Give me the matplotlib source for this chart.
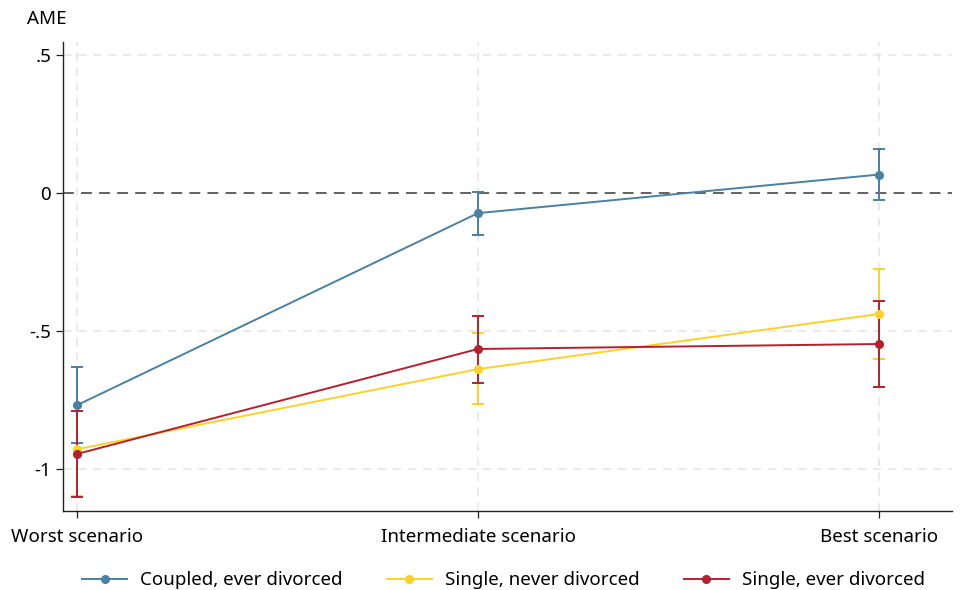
import matplotlib
matplotlib.use("Agg")
import matplotlib.pyplot as plt
import numpy as np

plt.rcParams["font.family"] = ["Noto Sans", "DejaVu Sans"]

# data
scenarios = ["Worst scenario", "Intermediate scenario", "Best scenario"]
series = ["Coupled, ever divorced", "Single, never divorced", "Single, ever divorced"]

coupled_ever = [-0.770, -0.073, 0.067]
coupled_ever_lo = [-0.907, -0.152, -0.025]
coupled_ever_hi = [-0.632, 0.004, 0.160]

single_never = [-0.930, -0.639, -0.439]
single_never_lo = [-1.100, -0.766, -0.603]
single_never_hi = [-0.791, -0.508, -0.276]

single_ever = [-0.947, -0.566, -0.548]
single_ever_lo = [-1.103, -0.690, -0.704]
single_ever_hi = [-0.791, -0.446, -0.392]

yticks = [0.5, 0, -0.5, -1]
ytick_labels = [".5", "0", "-.5", "-1"]

colors = ["#4a80a1", "#fbd22b", "#b3212e"]
FS = 13.5

fig = plt.figure(figsize=(9.63, 5.9), dpi=100)
ax = fig.add_axes([0.0654, 0.1339, 0.9232, 0.7949])

x = np.arange(len(scenarios))

# grid
for xi in x:
    ax.axvline(xi, color="#e6e6e6", lw=1.2, ls=(0, (5, 4)), zorder=0)
for yv in [0.5, -0.5, -1]:
    ax.axhline(yv, color="#e6e6e6", lw=1.2, ls=(0, (5, 4)), zorder=0)
ax.axhline(0, color="#555555", lw=1.3, ls=(0, (6, 4)), zorder=1)

data = [
    (coupled_ever, coupled_ever_lo, coupled_ever_hi),
    (single_never, single_never_lo, single_never_hi),
    (single_ever, single_ever_lo, single_ever_hi),
]
for (vals, lo, hi), c, lab in zip(data, colors, series):
    vals = np.array(vals)
    yerr = [vals - np.array(lo), np.array(hi) - vals]
    ax.errorbar(x, vals, yerr=yerr, fmt="none", ecolor=c, elinewidth=1.4,
                capsize=4.5, capthick=1.4, zorder=2)
    ax.plot(x, vals, color=c, lw=1.4, marker="o", ms=5.5, label=lab, zorder=3)

ax.set_xlim(-0.035, 2.182)
ax.set_ylim(-1.154, 0.548)
ax.set_xticks(x)
ax.set_xticklabels(scenarios, fontsize=FS)
ax.set_yticks(yticks)
ax.set_yticklabels(ytick_labels, fontsize=FS)
ax.tick_params(direction="out", length=5, width=0.9, color="#222222")
ax.tick_params(axis="x", pad=7)
ax.spines[["top", "right"]].set_visible(False)
for s in ["left", "bottom"]:
    ax.spines[s].set_linewidth(1.0)
    ax.spines[s].set_color("#222222")

fig.text(0.028, 0.968, "AME", fontsize=FS, ha="left", va="center")

ax.legend(loc="center", bbox_to_anchor=(0.4955, -0.148), ncol=3,
          frameon=False, fontsize=FS, handlelength=2.4, handletextpad=0.7,
          columnspacing=2.35)

fig.savefig("out.png", dpi=100)
